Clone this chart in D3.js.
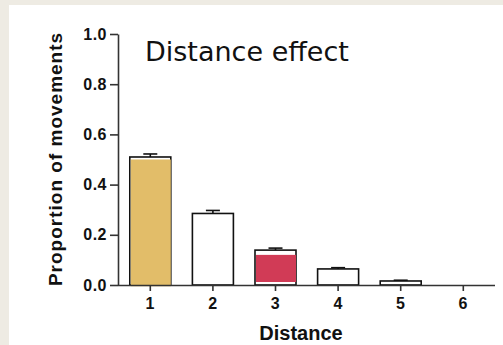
<!DOCTYPE html>
<html>
<head>
<meta charset="utf-8">
<script src="https://cdn.jsdelivr.net/npm/d3@7"></script>
<style>
  html, body { margin: 0; padding: 0; background: #eeebe3; }
  svg { display: block; }
</style>
</head>
<body>
<div id="myChart"></div>
<script>
// data
var distances = ["1", "2", "3", "4", "5", "6"];
var proportions = [0.51, 0.285, 0.139, 0.064, 0.016, 0.0];
var sems = [0.012, 0.012, 0.008, 0.005, 0.003, 0.0];
// coloured overlays inside bars 1 and 3 (top / bottom value)
var overlayTop = [0.50, null, 0.12, null, null, null];
var overlayBottom = [-0.005, null, 0.012, null, null, null];
var overlayColors = ["#e2bd69", null, "#d13b56", null, null, null];
var yTicks = [0, 0.2, 0.4, 0.6, 0.8, 1.0];

var width = 503, height = 345;

var svg = d3.select("#myChart")
  .append("svg")
  .attr("width", width)
  .attr("height", height);

// white panel
svg.append("rect")
  .attr("x", 9)
  .attr("y", 5)
  .attr("width", width - 9)
  .attr("height", height - 5)
  .style("fill", "white");

var x = d3.scaleBand()
  .domain(distances)
  .range([119, 494.6])
  .paddingInner(0.345)
  .paddingOuter(0.1725);

var y = d3.scaleLinear()
  .domain([0, 1])
  .range([285, 34]);

// bars
var bars = svg.append("g");
bars.selectAll(".bar")
  .data(distances)
  .enter()
  .append("rect")
  .attr("class", "bar")
  .attr("x", function(d) { return x(d) })
  .attr("y", function(d, i) { return y(proportions[i]) })
  .attr("width", x.bandwidth())
  .attr("height", function(d, i) { return y(0) - y(proportions[i]) })
  .style("fill", "white")
  .style("stroke", function(d, i) { return proportions[i] > 0 ? "#111" : "none" })
  .style("stroke-width", 1.6);

// overlays
bars.selectAll(".overlay")
  .data(distances.filter(function(d, i) { return overlayTop[i] != null }))
  .enter()
  .append("rect")
  .attr("class", "overlay")
  .attr("x", function(d) { return x(d) + 1 })
  .attr("y", function(d) { return y(overlayTop[distances.indexOf(d)]) })
  .attr("width", x.bandwidth() - 1)
  .attr("height", function(d) {
    var i = distances.indexOf(d);
    return y(overlayBottom[i]) - y(overlayTop[i]);
  })
  .style("fill", function(d) { return overlayColors[distances.indexOf(d)] });

// error bars
var err = svg.append("g")
  .style("stroke", "#111")
  .style("stroke-width", 1.6);
distances.forEach(function(d, i) {
  if (proportions[i] <= 0) return;
  var cx = x(d) + x.bandwidth() / 2;
  err.append("line")
    .attr("x1", cx).attr("x2", cx)
    .attr("y1", y(proportions[i])).attr("y2", y(proportions[i] + sems[i]));
  err.append("line")
    .attr("x1", cx - 7).attr("x2", cx + 7)
    .attr("y1", y(proportions[i] + sems[i])).attr("y2", y(proportions[i] + sems[i]));
});

// axes
var yAxis = svg.append("g")
  .attr("transform", "translate(118,0)")
  .call(d3.axisLeft(y).tickValues(yTicks).tickFormat(d3.format(".1f"))
    .tickSize(8).tickSizeOuter(0).tickPadding(3));

var xAxis = svg.append("g")
  .attr("transform", "translate(0,285)")
  .call(d3.axisBottom(x).tickSize(6).tickSizeOuter(0).tickPadding(7));

xAxis.select(".domain").attr("d", "M118,0.5H495");

[yAxis, xAxis].forEach(function(a) {
  a.attr("font-size", null).attr("font-family", null);
  a.selectAll(".domain, .tick line")
    .style("stroke", "#333")
    .style("stroke-width", 1.6);
  a.selectAll(".tick text")
    .style("font-family", "Liberation Sans, Arial, sans-serif")
    .style("font-weight", "bold")
    .style("font-size", "16px")
    .style("letter-spacing", "0.5px")
    .style("fill", "#111");
});

// labels
svg.append("text")
  .attr("transform", "translate(62,159) rotate(-90)")
  .attr("text-anchor", "middle")
  .style("font-family", "Liberation Sans, Arial, sans-serif")
  .style("font-weight", "bold")
  .style("font-size", "19px")
  .style("letter-spacing", "1px")
  .style("fill", "#111")
  .text("Proportion of movements");

svg.append("text")
  .attr("x", 301)
  .attr("y", 340)
  .attr("text-anchor", "middle")
  .style("font-family", "Liberation Sans, Arial, sans-serif")
  .style("font-weight", "bold")
  .style("font-size", "20px")
  .style("fill", "#111")
  .text("Distance");

svg.append("text")
  .attr("x", 145)
  .attr("y", 61)
  .style("font-family", "DejaVu Sans, sans-serif")
  .style("font-size", "27px")
  .style("fill", "#111")
  .text("Distance effect");
</script>
</body>
</html>
